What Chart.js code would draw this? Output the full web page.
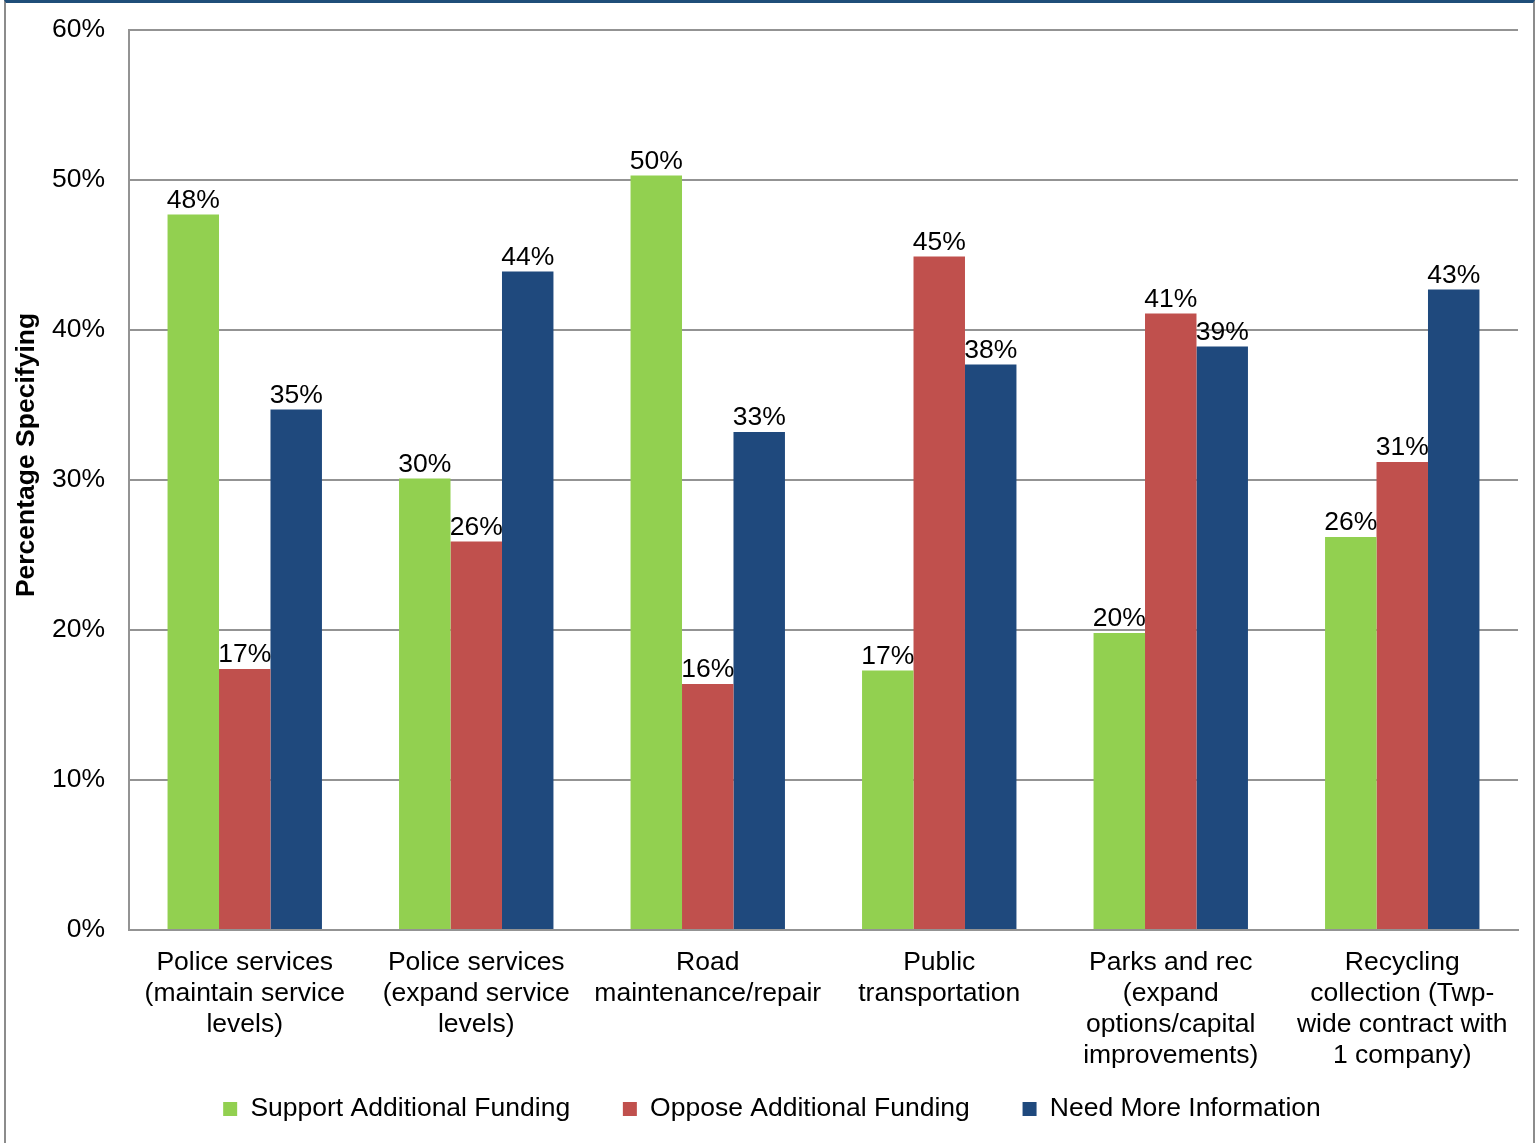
<!DOCTYPE html>
<html>
<head>
<meta charset="utf-8">
<title>Funding preferences by service</title>
<script src="https://cdn.jsdelivr.net/npm/chart.js@4/dist/chart.umd.min.js"></script>
<style>
    body { margin: 0; background: #ffffff; overflow: hidden; }
    #wrap { position: relative; width: 1537px; height: 1143px; }
    #frame {
        position: absolute; left: 4px; top: 0; width: 1527px; height: 1143px;
        border-left: 2px solid #8c8c8c; border-right: 2px solid #8c8c8c;
        border-top: 3px solid #1f4e79; pointer-events: none;
    }
    canvas { position: absolute; left: 0; top: 0; }
</style>
</head>
<body>
<div id="wrap">
    <canvas id="funding-chart" width="1537" height="1143"></canvas>
    <div id="frame"></div>
</div>
<script>
const categories = [
    ["Police services", "(maintain service", "levels)"],
    ["Police services", "(expand service", "levels)"],
    ["Road", "maintenance/repair"],
    ["Public", "transportation"],
    ["Parks and rec", "(expand", "options/capital", "improvements)"],
    ["Recycling", "collection (Twp-", "wide contract with", "1 company)"]
];

const supportFunding = [47.7, 30.1, 50.3, 17.3, 19.8, 26.2];
const opposeFunding = [17.4, 25.9, 16.4, 44.9, 41.1, 31.2];
const needMoreInfo = [34.7, 43.9, 33.2, 37.7, 38.9, 42.7];

const yTicks = [0, 10, 20, 30, 40, 50, 60];
const yTitle = "Percentage Specifying";

const FONT = "'Liberation Sans', Arial, sans-serif";
const FONT_SIZE = 26.5;
const GRID = "#939393";

// percent labels above each bar
const barLabels = {
    id: "barLabels",
    afterDatasetsDraw(chart) {
        const ctx = chart.ctx;
        ctx.save();
        ctx.font = FONT_SIZE + "px " + FONT;
        ctx.fillStyle = "#000000";
        ctx.textAlign = "center";
        ctx.textBaseline = "alphabetic";
        chart.data.datasets.forEach((ds, i) => {
            chart.getDatasetMeta(i).data.forEach((bar, j) => {
                ctx.fillText(Math.round(ds.data[j]) + "%", bar.x, bar.y - 7);
            });
        });
        ctx.restore();
    }
};

// vertical axis title, sitting a little above the middle of the plot
const axisTitle = {
    id: "axisTitle",
    afterDraw(chart) {
        const ctx = chart.ctx;
        const area = chart.chartArea;
        ctx.save();
        ctx.translate(26.5, (area.top + area.bottom) / 2 - 25);
        ctx.rotate(-Math.PI / 2);
        ctx.font = "bold " + FONT_SIZE + "px " + FONT;
        ctx.fillStyle = "#000000";
        ctx.textAlign = "center";
        ctx.textBaseline = "middle";
        ctx.fillText(yTitle, 0, 0);
        ctx.restore();
    }
};

// the x labels need a tall axis box, so pull the legend back up over it
const legendShift = { dx: 13, dy: -27 };
const moveLegend = {
    id: "moveLegend",
    afterLayout(chart) {
        const lg = chart.legend;
        lg.left += legendShift.dx;
        lg.right += legendShift.dx;
        lg.top += legendShift.dy;
        lg.bottom += legendShift.dy;
    }
};

new Chart(document.getElementById("funding-chart"), {
    type: "bar",
    data: {
        labels: categories,
        datasets: [
            { label: "Support Additional Funding", data: supportFunding, backgroundColor: "#92d050" },
            { label: "Oppose Additional Funding", data: opposeFunding, backgroundColor: "#c0504d" },
            { label: "Need More Information", data: needMoreInfo, backgroundColor: "#1f497d" }
        ]
    },
    options: {
        responsive: false,
        animation: false,
        layout: { padding: { left: 0, right: 19, top: 30, bottom: -16.25 } },
        datasets: {
            bar: { categoryPercentage: 0.667, barPercentage: 1.0, borderWidth: 0 }
        },
        scales: {
            x: {
                grid: { display: false, drawTicks: false },
                border: { display: true, color: GRID, width: 2 },
                ticks: {
                    color: "#000000",
                    font: { family: FONT, size: FONT_SIZE, lineHeight: 1.17 },
                    padding: 17,
                    maxRotation: 0,
                    autoSkip: false
                },
                afterFit(scale) { scale.height = 140; }
            },
            y: {
                min: 0,
                max: 60,
                afterBuildTicks(scale) { scale.ticks = yTicks.map(v => ({ value: v })); },
                grid: { color: GRID, lineWidth: 2, drawTicks: true, tickLength: 24, tickColor: "rgba(0,0,0,0)" },
                border: { display: true, color: GRID, width: 2 },
                ticks: {
                    color: "#000000",
                    font: { family: FONT, size: FONT_SIZE },
                    padding: 0,
                    callback: v => v + "%"
                },
                afterFit(scale) { scale.width = 129; }
            }
        },
        plugins: {
            legend: {
                position: "bottom",
                labels: {
                    color: "#000000",
                    font: { family: FONT, size: FONT_SIZE },
                    boxWidth: 14,
                    boxHeight: 14,
                    padding: 52.75
                }
            },
            tooltip: { enabled: false }
        }
    },
    plugins: [barLabels, axisTitle, moveLegend]
});
</script>
</body>
</html>
